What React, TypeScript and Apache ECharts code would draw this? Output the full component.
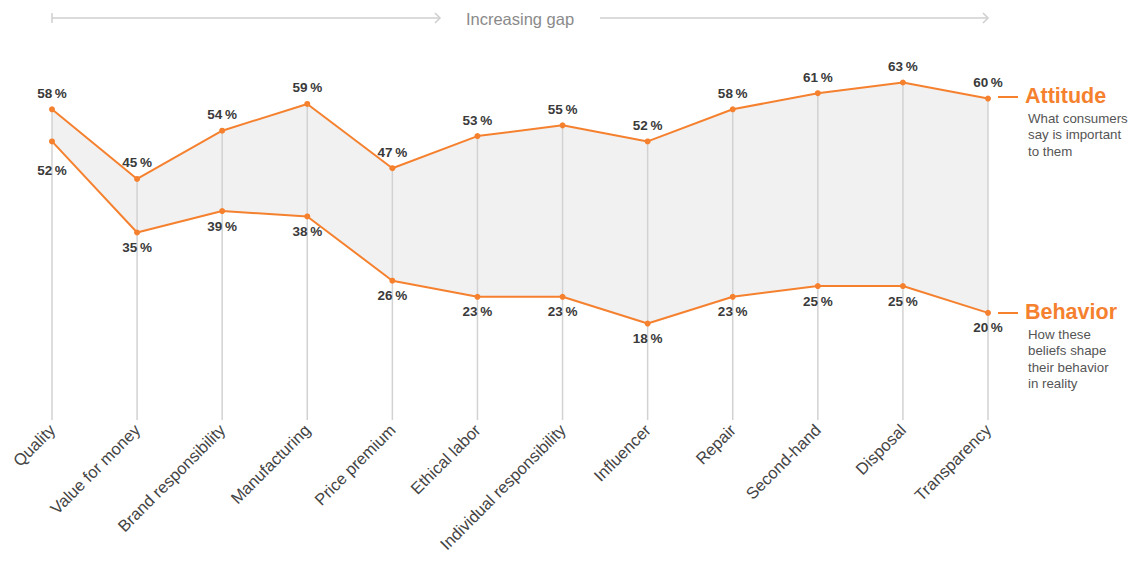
import React, { useEffect, useRef } from "react";
import * as echarts from "echarts";

const categories = [
  "Quality",
  "Value for money",
  "Brand responsibility",
  "Manufacturing",
  "Price premium",
  "Ethical labor",
  "Individual responsibility",
  "Influencer",
  "Repair",
  "Second-hand",
  "Disposal",
  "Transparency",
];
const attitude = [58, 45, 54, 59, 47, 53, 55, 52, 58, 61, 63, 60];
const behavior = [52, 35, 39, 38, 26, 23, 23, 18, 23, 25, 25, 20];

const ORANGE = "#F5812F";
const FONT = "Liberation Sans, Arial, Helvetica, sans-serif";

export default function App() {
  const ref = useRef<HTMLDivElement>(null);
  useEffect(() => {
    if (!ref.current) return;
    const chart = echarts.init(ref.current, null, { renderer: "svg" });
    const gap = attitude.map((a, i) => a - behavior[i]);
    const pct = (p: any) => `${p.value}\u2009%`;
    const labelStyle = {
      show: true,
      formatter: pct,
      color: "#3a3a3a",
      fontWeight: "bold",
      fontSize: 13.5,
      fontFamily: FONT,
    };
    chart.setOption({
      animation: false,
      textStyle: { fontFamily: FONT },
      grid: { left: 52, right: 149, top: 45, bottom: 143, containLabel: false },
      xAxis: {
        type: "category",
        data: categories,
        boundaryGap: false,
        axisLine: { show: false },
        axisTick: { show: false },
        axisLabel: {
          rotate: 45,
          interval: 0,
          margin: 7,
          color: "#444",
          fontSize: 16.5,
          fontFamily: FONT,
        },
      },
      yAxis: {
        type: "value",
        min: 0,
        max: 70,
        show: false,
        splitLine: { show: false },
      },
      series: [
        {
          type: "line",
          stack: "gap",
          data: behavior,
          symbol: "none",
          lineStyle: { width: 0, opacity: 0 },
          silent: true,
          z: 1,
        },
        {
          type: "line",
          stack: "gap",
          data: gap,
          symbol: "none",
          lineStyle: { width: 0, opacity: 0 },
          areaStyle: { color: "#f1f1f1", opacity: 1 },
          silent: true,
          z: 1,
        },
        {
          type: "bar",
          data: attitude,
          barWidth: 1.5,
          itemStyle: { color: "#d2d2d2" },
          silent: true,
          z: 2,
        },
        {
          name: "Attitude",
          type: "line",
          data: attitude,
          symbol: "circle",
          symbolSize: 6,
          lineStyle: { color: ORANGE, width: 2 },
          itemStyle: { color: ORANGE },
          label: { ...labelStyle, position: "top", distance: 6 },
          z: 3,
        },
        {
          name: "Behavior",
          type: "line",
          data: behavior.map((v, i) =>
            i === 0 ? { value: v, label: { distance: 19 } } : v
          ),
          symbol: "circle",
          symbolSize: 6,
          lineStyle: { color: ORANGE, width: 2 },
          itemStyle: { color: ORANGE },
          label: { ...labelStyle, position: "bottom", distance: 5 },
          z: 3,
        },
      ],
      graphic: [
        // top arrow
        { type: "line", shape: { x1: 52, y1: 18, x2: 440, y2: 18 }, style: { stroke: "#cfcfcf", lineWidth: 1.5 } },
        { type: "line", shape: { x1: 52, y1: 13, x2: 52, y2: 23 }, style: { stroke: "#cfcfcf", lineWidth: 1.5 } },
        { type: "polyline", shape: { points: [[435, 13], [440, 18], [435, 23]] }, style: { stroke: "#cfcfcf", lineWidth: 1.5, fill: null } },
        {
          type: "text",
          x: 520,
          y: 19,
          style: { text: "Increasing gap", fill: "#8a8a8a", fontSize: 16.5, fontFamily: FONT, align: "center", verticalAlign: "middle" },
        },
        { type: "line", shape: { x1: 600, y1: 18, x2: 988, y2: 18 }, style: { stroke: "#cfcfcf", lineWidth: 1.5 } },
        { type: "polyline", shape: { points: [[983, 13], [988, 18], [983, 23]] }, style: { stroke: "#cfcfcf", lineWidth: 1.5, fill: null } },
        // Gap
        {
          type: "text",
          x: 520,
          y: 215,
          style: { text: "Gap", fill: "#7a7a7a", fontSize: 19, fontWeight: "bold", fontFamily: FONT, align: "center", verticalAlign: "middle" },
        },
        // Attitude legend
        { type: "line", shape: { x1: 998, y1: 97, x2: 1018, y2: 97 }, style: { stroke: ORANGE, lineWidth: 2 } },
        {
          type: "text",
          x: 1025,
          y: 96,
          style: { text: "Attitude", fill: ORANGE, fontSize: 21.5, fontWeight: "bold", fontFamily: FONT, verticalAlign: "middle" },
        },
        {
          type: "text",
          x: 1028,
          y: 110,
          style: {
            text: "What consumers\nsay is important\nto them",
            fill: "#555",
            fontSize: 13.3,
            lineHeight: 16.5,
            fontFamily: FONT,
            verticalAlign: "top",
          },
        },
        // Behavior legend
        { type: "line", shape: { x1: 998, y1: 313, x2: 1018, y2: 313 }, style: { stroke: ORANGE, lineWidth: 2 } },
        {
          type: "text",
          x: 1025,
          y: 312,
          style: { text: "Behavior", fill: ORANGE, fontSize: 21.5, fontWeight: "bold", fontFamily: FONT, verticalAlign: "middle" },
        },
        {
          type: "text",
          x: 1028,
          y: 326,
          style: {
            text: "How these\nbeliefs shape\ntheir behavior\nin reality",
            fill: "#555",
            fontSize: 13.3,
            lineHeight: 16.5,
            fontFamily: FONT,
            verticalAlign: "top",
          },
        },
      ],
    });
    return () => chart.dispose();
  }, []);
  return <div ref={ref} style={{ width: 1137, height: 563, margin: -8 }} />;
}
